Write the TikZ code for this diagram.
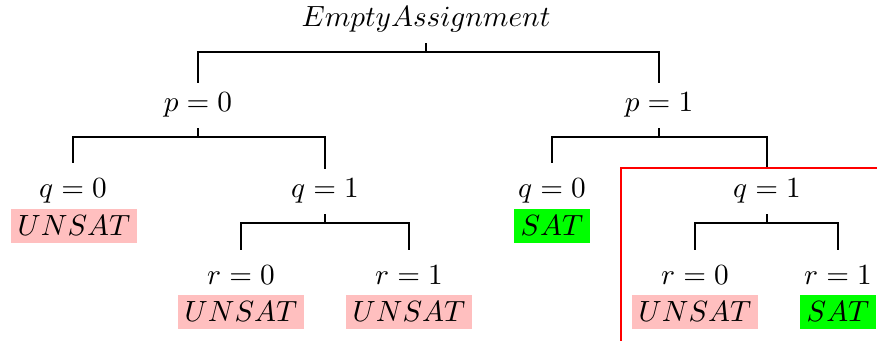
\documentclass[tikz,border=0pt]{standalone}
\usepackage{xcolor}
\begin{document}
\begin{tikzpicture}[x=0.342pt,y=-0.342pt,
	midnode/.style={anchor=base},
	leafnode/.style={anchor=base,text height=8.5pt},
	unsatbox/.style={anchor=north,fill=red!25,inner sep=2.4pt},
	satbox/.style={anchor=north,fill=green,inner sep=2.4pt}
	]
	\useasboundingbox (0,0) rectangle (877,341);
	\node[midnode] (root) at (426,27) {$EmptyAssignment$};
	\node[midnode] (p0) at (198,112) {$p=0$};
	\node[midnode] (p1) at (659,112) {$p=1$};
	%%%%%%%%%%%%%%%
	\node[leafnode] (q00) at (73,198) {$q=0$};
	\node[unsatbox] (q00r) at (74,208) {$UNSAT$};
	\node[midnode] (q01) at (325,198) {$q=1$};
	\node[leafnode] (q10) at (552,198) {$q=0$};
	\node[satbox] (q10r) at (552,208) {$SAT$};
	\node[midnode] (q11) at (767,198) {$q=1$};
	%%%%%%%%%%%%%%%
	\node[leafnode] (r010) at (241,285) {$r=0$};
	\node[unsatbox] (r010r) at (241,294) {$UNSAT$};
	\node[leafnode] (r011) at (409,285) {$r=1$};
	\node[unsatbox] (r011r) at (409,294) {$UNSAT$};
	\node[leafnode] (r110) at (695,285) {$r=0$};
	\node[unsatbox] (r110r) at (695,294) {$UNSAT$};
	\node[leafnode] (r111) at (838,285) {$r=1$};
	\node[satbox] (r111r) at (838,294) {$SAT$};
	%%%%%%%%%%%%%%%
	\draw (root.south) -- ++(0,9) -| (p0.north);
	\draw (root.south) -- ++(0,9) -| (p1.north);
	\draw (p0.south) -- ++(0,9) -| (q00.north);
	\draw (p0.south) -- ++(0,9) -| (q01.north);
	\draw (p1.south) -- ++(0,9) -| (q10.north);
	\draw (p1.south) -- ++(0,9) -| (q11.north);
	\draw (q01.south) -- ++(0,9) -| (r010.north);
	\draw (q01.south) -- ++(0,9) -| (r011.north);
	\draw (q11.south) -- ++(0,9) -| (r110.north);
	\draw (q11.south) -- ++(0,9) -| (r111.north);
	\draw[red] (621,168) rectangle (900,360);
\end{tikzpicture}
\end{document}
